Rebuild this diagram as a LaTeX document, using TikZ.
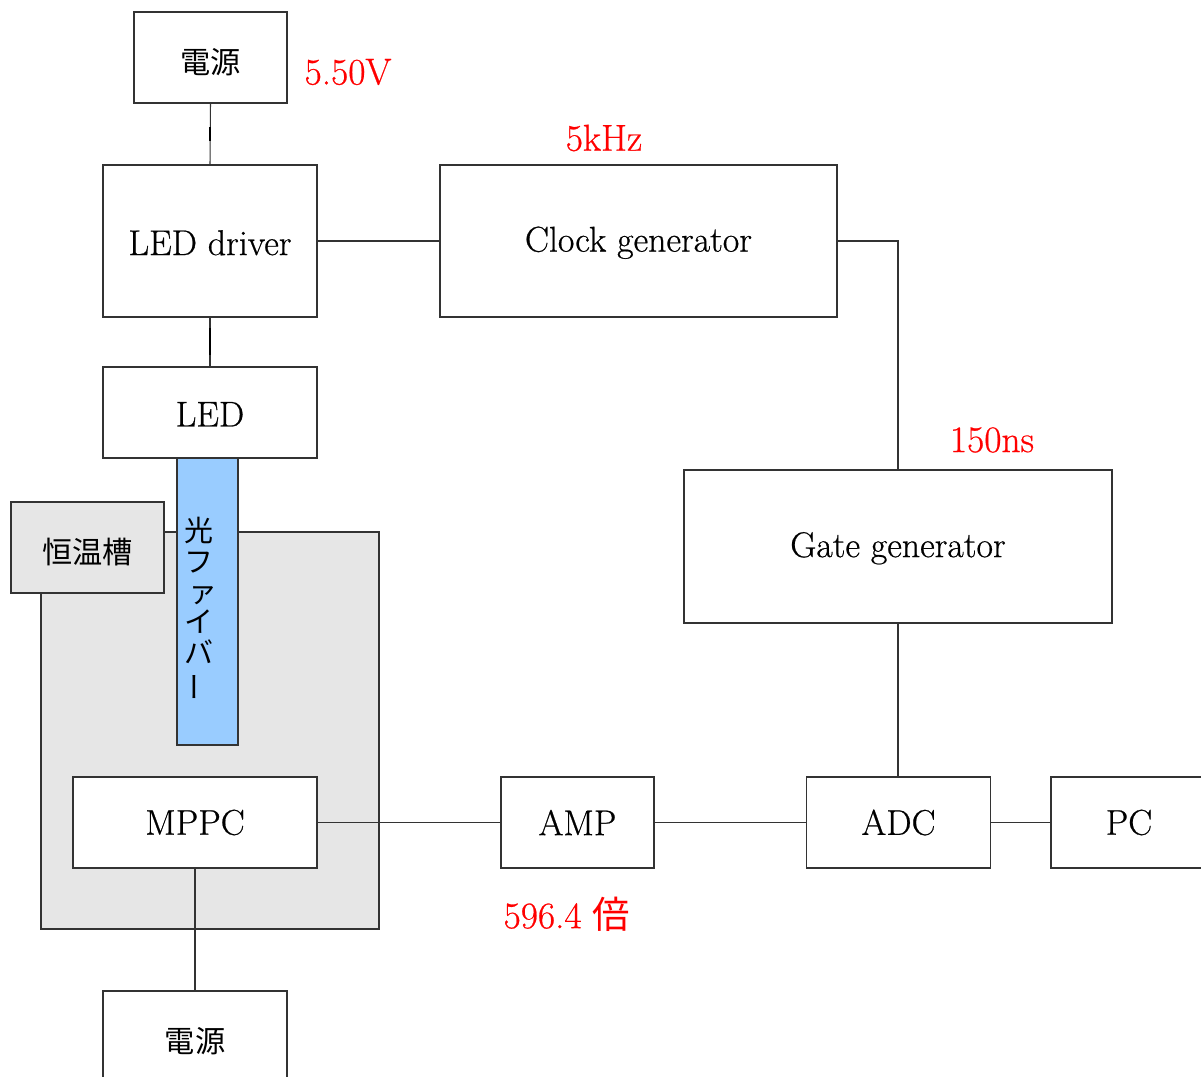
\documentclass[tikz,border=0pt]{standalone}
\usepackage{fontspec}
\usepackage{graphicx}
\newfontfamily\jp{Noto Sans CJK JP}
\newfontfamily\medserif{Latin Modern Roman}[FakeBold=0.6]
\definecolor{fiberblue}{HTML}{99CCFF}
\definecolor{bathgray}{HTML}{E6E6E6}
\definecolor{edge}{HTML}{333333}
\newcommand{\jtext}[1]{\raisebox{-2.6pt}[\height][\depth]{#1}}
\newcommand{\etext}[1]{\raisebox{-1.0pt}[\height][\depth]{#1}}
\begin{document}
\begin{tikzpicture}[x=0.02cm,y=-0.02cm,
  box/.style={draw=edge,line width=0.6pt,fill=white,inner sep=0pt},
  lbl/.style={font=\medserif\fontsize{20.4}{22}\selectfont},
  jlbl/.style={font=\jp\fontsize{17.2}{19}\selectfont},
  red/.style={text=red,font=\medserif\fontsize{21.3}{23}\selectfont},
  conn/.style={draw=edge,line width=0.6pt},
  thick seg/.style={draw=black,line width=1.6pt}]
\useasboundingbox (0,0) rectangle (1201,1077);
% thermostatic bath
\draw[fill=bathgray,draw=edge,line width=0.6pt] (41,532) rectangle (379,929);
\node[box,fill=bathgray,minimum width=153*0.02cm,minimum height=91*0.02cm,jlbl] (bath) at (87.5,547.5) {\jtext{恒温槽}};
% boxes
\node[box,minimum width=153*0.02cm,minimum height=91*0.02cm,jlbl] (ps1) at (210.5,57.5) {\jtext{電源}};
\node[box,minimum width=214*0.02cm,minimum height=152*0.02cm,lbl] (drv) at (210,241) {\etext{LED driver}};
\node[box,minimum width=397*0.02cm,minimum height=152*0.02cm,lbl] (clk) at (638.5,241) {\etext{Clock generator}};
\node[box,minimum width=214*0.02cm,minimum height=91*0.02cm,lbl] (led) at (210,412.5) {\etext{LED}};
\node[box,minimum width=428*0.02cm,minimum height=153*0.02cm,lbl] (gate) at (898,546.5) {\etext{Gate generator}};
\node[box,minimum width=244*0.02cm,minimum height=91*0.02cm,lbl] (mppc) at (195,822.5) {MPPC};
\node[box,minimum width=153*0.02cm,minimum height=91*0.02cm,lbl] (amp) at (577.5,822.5) {AMP};
\node[box,minimum width=184*0.02cm,minimum height=91*0.02cm,lbl] (adc) at (898.5,822.5) {ADC};
\node[box,minimum width=156*0.02cm,minimum height=91*0.02cm,lbl] (pc) at (1129,822.5) {PC};
\node[box,minimum width=184*0.02cm,minimum height=91*0.02cm,jlbl] (ps2) at (195,1036.5) {\jtext{電源}};
% fiber
\node[draw=edge,line width=0.6pt,fill=fiberblue,minimum width=61*0.02cm,minimum height=287*0.02cm,inner sep=0pt] (fiber) at (207.5,601.5) {};
\node[font=\jp\fontsize{16.5}{17.3}\selectfont,align=center,inner sep=0pt,anchor=north] (fibertxt) at (199,517)
  {光\\フ\\\hspace*{4pt}ァ\\イ\\バ\\\rotatebox[origin=c]{90}{ー}};
% connectors
\draw[conn] (ps1.south) -- (drv.north);
\draw[thick seg] (210,127) -- (210,141);
\draw[conn] (drv.south) -- (led.north);
\draw[thick seg] (210,328) -- (210,355);
\draw[conn] (drv.east) -- (clk.west);
\draw[conn] (clk.east) -| (gate.north);
\draw[conn] (gate.south) -- (gate.south |- adc.north);
\draw[conn] (mppc.east) -- (amp.west);
\draw[conn] (amp.east) -- (adc.west);
\draw[conn] (adc.east) -- (pc.west);
\draw[conn] (mppc.south) -- (ps2.north);
% red labels
\node[red] (v) at (348,72) {5.50V};
\node[red] (f) at (604,138) {5kHz};
\node[red] (ns) at (992,440) {150ns};
\node[red] (gain) at (567,914) {596.4 {\jp 倍}};
\end{tikzpicture}
\end{document}
